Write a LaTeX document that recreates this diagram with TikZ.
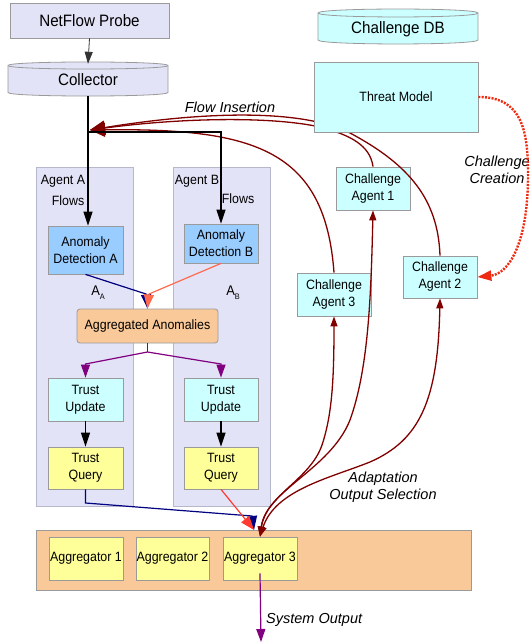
\documentclass[tikz,border=0pt]{standalone}
\usepackage{fontspec}
\setmainfont{Liberation Sans}[FakeStretch=0.92]
\newfontfamily\labfont{Liberation Sans}
\usetikzlibrary{arrows.meta}

\definecolor{lav}{HTML}{E3E3F8}
\definecolor{cyanbox}{HTML}{CCFFFF}
\definecolor{bluebox}{HTML}{99CCFF}
\definecolor{peach}{HTML}{F9C999}
\definecolor{yel}{HTML}{FFFF99}
\definecolor{boxline}{HTML}{9A9A9A}
\definecolor{panline}{HTML}{B8B8CC}
\definecolor{darkred}{HTML}{800000}
\definecolor{navyline}{HTML}{000080}
\definecolor{salmonline}{HTML}{FF6A4D}
\definecolor{purpline}{HTML}{800080}
\definecolor{dotred}{HTML}{EE2A10}
\definecolor{tqred}{HTML}{FF3B30}

\newcommand\bigfnt{\fontsize{16.5}{19}\selectfont}
\newcommand\boxfnt{\fontsize{13.5}{17}\selectfont}
\newcommand\labfnt{\labfont\itshape\fontsize{14.5}{17.5}\selectfont}

\tikzset{
  box/.style={draw=boxline, line width=0.8pt, inner sep=0pt, align=center, font=\boxfnt},
  panel/.style={draw=panline, fill=lav, line width=0.8pt, inner sep=0pt},
  plain/.style={inner sep=0pt, align=center, font=\boxfnt},
  lab/.style={inner sep=0pt, align=center, font=\labfnt},
  cylbody/.style={draw=boxline, line width=0.8pt},
  blk/.style={black, line width=1.3pt, -{Triangle[length=14pt,width=9pt]}},
  blksmall/.style={black!80, line width=0.8pt, -{Triangle[length=12pt,width=8pt]}},
  purp/.style={purpline, line width=1.2pt, -{Triangle[length=13pt,width=9pt]}},
  redarc/.style={darkred, line width=1.3pt},
  redtips/.style={{Triangle[length=10pt,width=7pt]}-{Triangle[length=10pt,width=7pt]}},
  fitip/.style={-{Triangle[length=15pt,width=14pt]}},
}

\begin{document}
\begin{tikzpicture}[x=1pt,y=-1pt]
\useasboundingbox (0,0) rectangle (530,644);

% agent panels
\node[panel, minimum width=97, minimum height=339] (panA) at (84.5,336.5) {};
\node[panel, minimum width=97, minimum height=339] (panB) at (221.5,336.5) {};
% aggregation panel
\node[panel, fill=peach, draw=boxline, minimum width=435, minimum height=60] (aggpan) at (253.5,560) {};

% cylinders
\filldraw[cylbody, fill=lav] (8,65.5) -- (8,92.5) .. controls (8,97.2) and (168,97.2) .. (168,92.5)
  -- (168,65.5) .. controls (168,60.8) and (8,60.8) .. (8,65.5) -- cycle;
\draw[cylbody] (8,65.5) .. controls (8,70.2) and (168,70.2) .. (168,65.5);
\node[plain, font=\bigfnt, minimum width=160, minimum height=32] (coll) at (88,80) {Collector};

\filldraw[cylbody, fill=cyanbox] (318,13) -- (318,40) .. controls (318,45.3) and (478,45.3) .. (478,40)
  -- (478,13) .. controls (478,7.7) and (318,7.7) .. (318,13) -- cycle;
\draw[cylbody] (318,13) .. controls (318,18.3) and (478,18.3) .. (478,13);
\node[plain, font=\bigfnt, minimum width=160, minimum height=32] (chdb) at (398,29) {Challenge DB};

% challenge agents
\node[box, fill=cyanbox, minimum width=74, minimum height=43] (ca1) at (373,188.5) {Challenge\\Agent 1};
\node[box, fill=cyanbox, minimum width=74, minimum height=42] (ca2) at (440,277) {Challenge\\Agent 2};
\node[box, fill=cyanbox, minimum width=74, minimum height=43] (ca3) at (334,294.5) {Challenge\\Agent 3};

% flow insertion from the challenge agents (running behind the threat model)
\coordinate (fi) at (90,130);
\draw[redarc, fitip] (ca2.north) .. controls (438,200) and (410,165) .. (350,133)
  .. controls (300,108) and (200,112) .. (fi);
\draw[redarc, fitip] (ca1.north) .. controls (370,145) and (350,135) .. (320,127)
  .. controls (270,116) and (180,118) .. (fi);
\draw[redarc, fitip] (ca3.north) .. controls (325,150) and (255,128) .. (fi);

% top boxes
\node[box, fill=lav, font=\bigfnt, minimum width=159, minimum height=35] (probe) at (89.5,20.5) {NetFlow Probe};
\node[box, fill=cyanbox, minimum width=164, minimum height=70] (threat) at (396,97) {Threat Model};

% agent boxes
\node[box, fill=bluebox, minimum width=75, minimum height=48] (ada) at (85.5,250) {Anomaly\\Detection A};
\node[box, fill=bluebox, minimum width=74, minimum height=39] (adb) at (221,243.5) {Anomaly\\Detection B};
\node[box, fill=peach, rounded corners=3pt, minimum width=141, minimum height=34] (aggan) at (147.5,326) {Aggregated Anomalies};
\node[box, fill=cyanbox, minimum width=75, minimum height=43] (tua) at (85.5,399.5) {Trust\\Update};
\node[box, fill=cyanbox, minimum width=74, minimum height=43] (tub) at (221,399.5) {Trust\\Update};
\node[box, fill=yel, minimum width=75, minimum height=42] (tqa) at (85.5,468) {Trust\\Query};
\node[box, fill=yel, minimum width=74, minimum height=42] (tqb) at (221,468) {Trust\\Query};

% aggregators
\node[box, fill=yel, minimum width=74, minimum height=43] (agg1) at (86,558.5) {Aggregator 1};
\node[box, fill=yel, minimum width=73, minimum height=43] (agg2) at (172.5,558.5) {Aggregator 2};
\node[box, fill=yel, minimum width=74, minimum height=43] (agg3) at (260,558.5) {Aggregator 3};

% panel labels
\node[plain] (agAlab) at (63,181) {Agent A};
\node[plain] (flAlab) at (68,201) {Flows};
\node[plain] (agBlab) at (197,181) {Agent B};
\node[plain] (flBlab) at (238,199) {Flows};
\node[plain, font=\fontsize{14}{16}\selectfont] (aAlab) at (98,293) {A\raisebox{-4pt}{\fontsize{8}{9}\selectfont A}};
\node[plain, font=\fontsize{14}{16}\selectfont] (aBlab) at (233,293) {A\raisebox{-4pt}{\fontsize{8}{9}\selectfont B}};

% flows from probe and collector
\draw[blksmall] (probe.south) -- (coll.north);
\coordinate (br) at (88,132);
\draw[blk] (coll.south) -- (coll.south |- ada.north);
\draw[blk] (br) -| (adb.north);

% anomalies into aggregation
\draw[navyline, line width=1.2pt, -{Triangle[length=14pt,width=10pt]}] (ada.south) -- (146,294) -- (aggan.north);
\draw[salmonline, line width=1.2pt, -{Triangle[length=14pt,width=10pt]}] (adb.south) -- (149,294) -- (aggan.north);

% aggregated anomalies to trust updates
\coordinate (pj) at (147.5,352);
\draw[purpline, line width=1.2pt] (aggan.south) -- (pj);
\draw[purp] (pj) -- (tua.north |- 0,364) -- (tua.north);
\draw[purp] (pj) -- (tub.north |- 0,364) -- (tub.north);

% trust update to query
\draw[blk] (tua.south) -- (tqa.north);
\draw[blk] (tub.south) -- (tqb.north);

% trust queries into the aggregators
\coordinate (aggtip) at (254,530);
\draw[navyline, line width=1.2pt, -{Triangle[length=14pt,width=10pt]}] (tqa.south) -- (85.5,503) -- (252,516) -- (aggtip);
\draw[tqred, line width=1.2pt, -{Triangle[length=14pt,width=10pt]}] (tqb.south) -- (aggtip);

% adaptation: output selection between aggregator and challenge agents
\draw[redarc, redtips] (agg3.north) .. controls (266,495) and (310,480) .. (322,445)
  .. controls (332,415) and (334,380) .. (ca3.south);
\draw[redarc, redtips] (agg3.north) .. controls (266,490) and (330,470) .. (350,420)
  .. controls (368,370) and (371,300) .. (ca1.south);
\draw[redarc, redtips] (agg3.north) .. controls (275,490) and (330,478) .. (370,462)
  .. controls (420,440) and (438,400) .. (ca2.south);

% system output
\coordinate (sysout) at (261,642);
\draw[purp] ([yshift=7pt]agg3.south) -- (sysout);

% italic labels
\node[lab] (fil) at (230,107) {Flow Insertion};
\node[lab] (adl) at (383,487) {Adaptation\\Output Selection};
\node[lab, anchor=west] (sol) at (266,620) {System Output};
\node[lab] (ccl) at (497,170) {Challenge\\Creation};

% challenge creation
\draw[dotred, line width=2.4pt, dash pattern=on 2pt off 1.3pt, -{Triangle[length=14pt,width=10pt]}]
  (threat.east) .. controls (522,97) and (528,130) .. (528,175)
  .. controls (528,245) and (508,274) .. (ca2.east);
\end{tikzpicture}
\end{document}
